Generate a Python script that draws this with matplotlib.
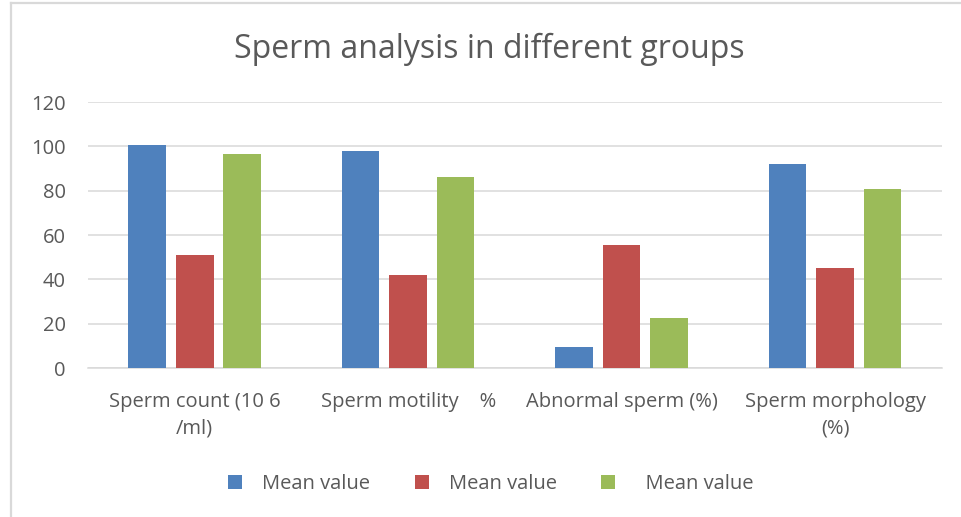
import matplotlib
matplotlib.use("Agg")
import matplotlib.pyplot as plt
from matplotlib.lines import Line2D
import numpy as np

plt.rcParams['font.family'] = ['Open Sans', 'DejaVu Sans']

categories = ['Sperm count (10 6\n/ml)', 'Sperm motility    %',
              'Abnormal sperm (%)', 'Sperm morphology\n(%)']
series_labels = ['Mean value', 'Mean value', '  Mean value']
group_a = [100.5, 97.7, 9.3, 92.2]
group_b = [51.1, 42.0, 55.6, 45.0]
group_c = [96.7, 86.3, 22.6, 80.8]
yticks = [0, 20, 40, 60, 80, 100, 120]

colors = ['#4F81BD', '#C0504D', '#9BBB59']
text_col = '#595959'
grid_col = '#D9D9D9'

fig = plt.figure(figsize=(9.61, 5.17), dpi=100)
ax = fig.add_axes([0.0916, 0.2882, 0.8884, 0.5145])

x = np.arange(len(categories))
step = 0.2225
width = 0.176
for j, vals in enumerate([group_a, group_b, group_c]):
    ax.bar(x + (j - 1) * step, vals, width, color=colors[j],
           label=series_labels[j], zorder=3)

ax.set_xlim(-0.5, 3.5)
ax.set_ylim(0, 120)
ax.set_yticks(yticks)
ax.set_xticks(x)
ax.set_xticklabels(categories, linespacing=1.45)
ax.yaxis.grid(True, color=grid_col, linewidth=1.1, zorder=0)
for s in ['top', 'right', 'left']:
    ax.spines[s].set_visible(False)
ax.spines['bottom'].set_color(grid_col)
ax.spines['bottom'].set_linewidth(1.1)
ax.tick_params(axis='y', length=0, pad=16, labelsize=14.5, labelcolor=text_col)
ax.tick_params(axis='x', length=0, pad=17, labelsize=14.5, labelcolor=text_col)

fig.text(0.509, 0.905, 'Sperm analysis in different groups', ha='center',
         va='center', fontsize=23, color=text_col)

leg = fig.legend(loc='center', bbox_to_anchor=(0.511, 0.063), ncol=3,
                 frameon=False, fontsize=14.5, handlelength=0.7,
                 handleheight=0.7, handletextpad=1.0, columnspacing=2.2)
for t in leg.get_texts():
    t.set_color(text_col)

# chart frame (top and left edges visible in the crop)
fig.add_artist(Line2D([10.5 / 961, 10.5 / 961], [0, 1 - 3 / 517],
                      color=grid_col, linewidth=1.6))
fig.add_artist(Line2D([10.5 / 961, 1], [1 - 3 / 517, 1 - 3 / 517],
                      color=grid_col, linewidth=1.6))

fig.savefig('out.png', dpi=100)
